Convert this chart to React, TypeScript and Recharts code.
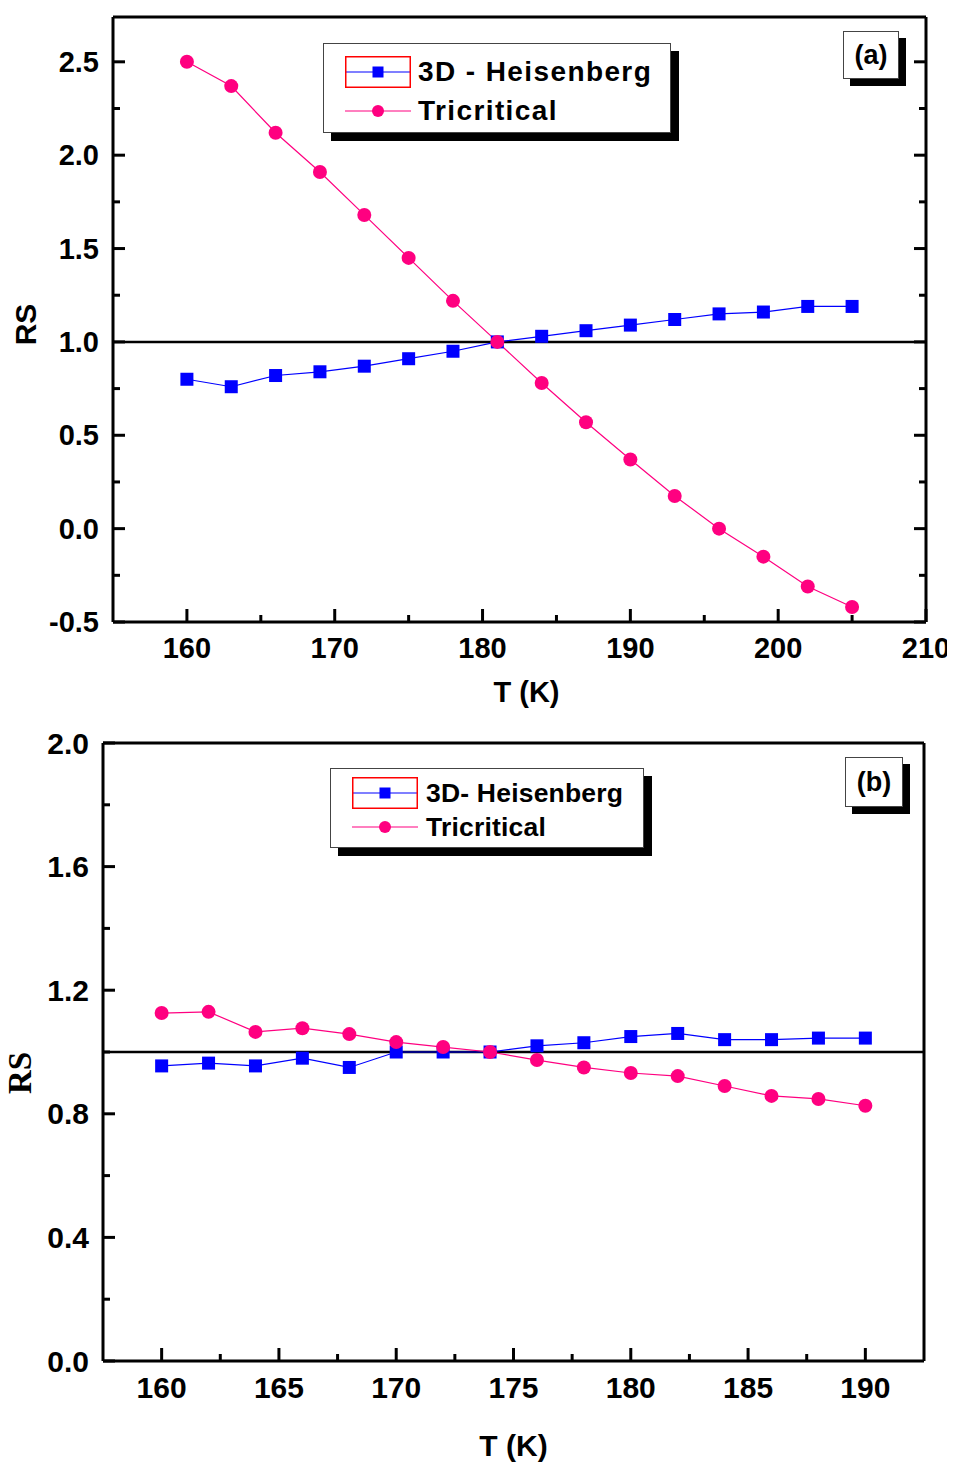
import { LineChart, Line, XAxis, YAxis, ReferenceLine, Legend, Label } from "recharts";

// panel (a)
const tempsA = [160, 163, 166, 169, 172, 175, 178, 181, 184, 187, 190, 193, 196, 199, 202, 205];
const heisenbergA = [0.8, 0.76, 0.82, 0.84, 0.87, 0.91, 0.95, 1.0, 1.03, 1.06, 1.09, 1.12, 1.15, 1.16, 1.19, 1.19];
const tricriticalA = [2.5, 2.37, 2.12, 1.91, 1.68, 1.45, 1.22, 1.0, 0.78, 0.57, 0.37, 0.175, 0.0, -0.15, -0.31, -0.42];
const xMajorA = [160, 170, 180, 190, 200, 210];
const xMinorA = [165, 175, 185, 195, 205];
const yMajorA = [-0.5, 0, 0.5, 1, 1.5, 2, 2.5];
const yMinorA = [-0.25, 0.25, 0.75, 1.25, 1.75, 2.25];

// panel (b)
const tempsB = [160, 162, 164, 166, 168, 170, 172, 174, 176, 178, 180, 182, 184, 186, 188, 190];
const heisenbergB = [0.955, 0.964, 0.955, 0.98, 0.95, 1.0, 1.0, 1.0, 1.02, 1.03, 1.05, 1.06, 1.04, 1.04, 1.045, 1.045];
const tricriticalB = [1.126, 1.13, 1.065, 1.077, 1.058, 1.032, 1.016, 1.0, 0.974, 0.95, 0.932, 0.922, 0.89, 0.858, 0.848, 0.826];
const xMajorB = [160, 165, 170, 175, 180, 185, 190];
const xMinorB = [162.5, 167.5, 172.5, 177.5, 182.5, 187.5];
const yMajorB = [0, 0.4, 0.8, 1.2, 1.6, 2.0];
const yMinorB = [0.2, 0.6, 1.0, 1.4, 1.8];

const BLUE = "#0000ff";
const PINK = "#ff0080";
const SANS = "'Liberation Sans', Arial, sans-serif";
const SERIF = "'Liberation Serif', 'Times New Roman', serif";

const sortNum = (a: number[], b: number[]) => [...a, ...b].sort((p, q) => p - q);

function Square({ cx, cy, size = 13, color = BLUE }: any) {
  if (cx == null || cy == null) return null;
  return <rect x={cx - size / 2} y={cy - size / 2} width={size} height={size} fill={color} />;
}

function Dot({ cx, cy, r = 7, color = PINK }: any) {
  if (cx == null || cy == null) return null;
  return <circle cx={cx} cy={cy} r={r} fill={color} />;
}

function xTick(majors: number[], fontSize: number, labelGap: number) {
  return (p: any) => {
    const major = majors.includes(p.payload.value);
    return (
      <g>
        <line x1={p.x} x2={p.x} y1={p.y} y2={p.y - (major ? 13 : 7)} stroke="#000" strokeWidth={3} />
        {major && (
          <text x={p.x} y={p.y + labelGap} textAnchor="middle" dominantBaseline="central"
            fontFamily={SANS} fontWeight="bold" fontSize={fontSize} fill="#000">
            {p.payload.value}
          </text>
        )}
      </g>
    );
  };
}

function yTick(majors: number[], fontSize: number, side: "left" | "right", labels: boolean) {
  return (p: any) => {
    const major = majors.includes(p.payload.value);
    const len = major ? 12 : 7;
    const dir = side === "left" ? 1 : -1;
    return (
      <g>
        <line x1={p.x} x2={p.x + dir * len} y1={p.y} y2={p.y} stroke="#000" strokeWidth={3} />
        {major && labels && (
          <text x={p.x - 14} y={p.y} textAnchor="end" dominantBaseline="central"
            fontFamily={SANS} fontWeight="bold" fontSize={fontSize} fill="#000">
            {p.payload.value.toFixed(1)}
          </text>
        )}
      </g>
    );
  };
}

function LegendBox({ w, h, rows, labels, fontSize, letterSpacing, sampleLeft, textLeft }: any) {
  return (
    <div style={{ position: "relative", width: w, height: h, boxSizing: "border-box", border: "1.5px solid #444",
      background: "#fff", boxShadow: "8px 8px 0 #000" }}>
      {labels.map((lab: string, i: number) => (
        <div key={lab} style={{ position: "absolute", left: sampleLeft, top: rows[i] - 16, height: 32, display: "flex", alignItems: "center" }}>
          <svg width={66} height={32} style={{ display: "block" }}>
            <line x1={0} x2={66} y1={16} y2={16} stroke={i === 0 ? BLUE : PINK} strokeWidth={1.2} />
            {i === 0 ? <Square cx={33} cy={16} size={11} /> : <Dot cx={33} cy={16} r={6} />}
            {i === 0 && <rect x={0.75} y={0.75} width={64.5} height={30.5} fill="none" stroke="#ff0000" strokeWidth={1.5} />}
          </svg>
          <span style={{ position: "absolute", left: textLeft - sampleLeft, whiteSpace: "nowrap", fontFamily: SANS,
            fontWeight: "bold", fontSize, letterSpacing, color: "#000", lineHeight: "32px" }}>{lab}</span>
        </div>
      ))}
    </div>
  );
}

function Panel(props: any) {
  const { top, width, height, margin, temps, heis, tric, xDomain, yDomain, xMajor, xMinor, yMajor, yMinor,
    yAxisWidth, xAxisHeight, tickFont, rightTicks, legend, tag, yTitle, xTitle } = props;
  const rows = temps.map((t: number, i: number) => ({ t, heis: heis[i], tric: tric[i] }));
  return (
    <div style={{ position: "absolute", left: 0, top, width, height }}>
      <LineChart width={width} height={height} data={rows} margin={margin}>
        <XAxis xAxisId="top" orientation="top" type="number" dataKey="t" domain={xDomain} allowDataOverflow
          height={1} ticks={xMajor} tick={false} tickLine={false} axisLine={{ stroke: "#000", strokeWidth: 3 }} />
        <XAxis type="number" dataKey="t" domain={xDomain} allowDataOverflow height={xAxisHeight}
          ticks={sortNum(xMajor, xMinor)} interval={0} tickSize={0} tickMargin={0} tickLine={false}
          tick={xTick(xMajor, tickFont, 26)} axisLine={{ stroke: "#000", strokeWidth: 3 }}>
          <Label content={(p: any) => (
            <text x={p.viewBox.x + p.viewBox.width / 2 + xTitle.dx} y={p.viewBox.y + xTitle.dy} textAnchor="middle"
              dominantBaseline="central" fontFamily={SANS} fontWeight="bold" fontSize={xTitle.size} fill="#000">T (K)</text>
          )} />
        </XAxis>
        <YAxis type="number" domain={yDomain} allowDataOverflow width={yAxisWidth}
          ticks={sortNum(yMajor, yMinor)} interval={0} tickSize={0} tickMargin={0} tickLine={false}
          tick={yTick(yMajor, tickFont, "left", true)} axisLine={{ stroke: "#000", strokeWidth: 3 }}>
          <Label content={(p: any) => {
            const x = p.viewBox.x + yTitle.x;
            const y = p.viewBox.y + p.viewBox.height / 2 + yTitle.dy;
            return (
              <text x={x} y={y} transform={`rotate(-90 ${x} ${y})`} textAnchor="middle" dominantBaseline="central"
                fontFamily={yTitle.font} fontWeight="bold" fontSize={yTitle.size} fill="#000">RS</text>
            );
          }} />
        </YAxis>
        <YAxis yAxisId="right" orientation="right" type="number" domain={yDomain} allowDataOverflow width={1}
          ticks={rightTicks ? sortNum(yMajor, yMinor) : yMajor} interval={0} tickSize={0} tickMargin={0} tickLine={false}
          tick={rightTicks ? yTick(yMajor, tickFont, "right", false) : false}
          axisLine={{ stroke: "#000", strokeWidth: 3 }} />
        <ReferenceLine y={1} stroke="#000" strokeWidth={2.5} />
        <Line type="linear" dataKey="heis" name={legend.labels[0]} stroke={BLUE} strokeWidth={1.2}
          dot={(d: any) => <Square key={`h${d.index}`} cx={d.cx} cy={d.cy} />} activeDot={false} isAnimationActive={false} />
        <Line type="linear" dataKey="tric" name={legend.labels[1]} stroke={PINK} strokeWidth={1.2}
          dot={(d: any) => <Dot key={`t${d.index}`} cx={d.cx} cy={d.cy} />} activeDot={false} isAnimationActive={false} />
        <Legend layout="horizontal" verticalAlign="middle" align="center"
          wrapperStyle={{ left: legend.left, top: legend.top, width: legend.w, height: legend.h }}
          content={() => <LegendBox {...legend} />} />
      </LineChart>
      <div style={{ position: "absolute", left: tag.left, top: tag.top, width: tag.w, height: tag.h, boxSizing: "border-box",
        border: "1.5px solid #444", background: "#fff", boxShadow: "7px 7px 0 #000", display: "flex", alignItems: "center",
        justifyContent: "center", fontFamily: SANS, fontWeight: "bold", fontSize: 27, color: "#000" }}>{tag.text}</div>
    </div>
  );
}

export default function App() {
  return (
    <div style={{ position: "relative", width: 955, height: 1465, margin: "-8px 0 0 -8px", background: "#fff" }}>
      <Panel top={0} width={955} height={715} margin={{ top: 16, right: 28, left: 0, bottom: 13 }}
        temps={tempsA} heis={heisenbergA} tric={tricriticalA} xDomain={[155, 210]} yDomain={[-0.5, 2.74]}
        xMajor={xMajorA} xMinor={xMinorA} yMajor={yMajorA} yMinor={yMinorA} yAxisWidth={113} xAxisHeight={80}
        tickFont={29} rightTicks
        legend={{ left: 323, top: 43, w: 348, h: 90, rows: [28, 67], labels: ["3D - Heisenberg", "Tricritical"],
          fontSize: 28, letterSpacing: 1.4, sampleLeft: 21, textLeft: 94 }}
        tag={{ left: 843, top: 31, w: 56, h: 48, text: "(a)" }}
        yTitle={{ x: 25, dy: 5, size: 30, font: SANS }} xTitle={{ dx: 7, dy: 70, size: 29 }} />
      <Panel top={720} width={955} height={745} margin={{ top: 22, right: 30, left: 0, bottom: 14 }}
        temps={tempsB} heis={heisenbergB} tric={tricriticalB} xDomain={[157.5, 192.5]} yDomain={[0, 2]}
        xMajor={xMajorB} xMinor={xMinorB} yMajor={yMajorB} yMinor={yMinorB} yAxisWidth={103} xAxisHeight={90}
        tickFont={30} rightTicks={false}
        legend={{ left: 330, top: 48, w: 314, h: 80, rows: [24, 58], labels: ["3D- Heisenberg", "Tricritical"],
          fontSize: 26.5, letterSpacing: 0.2, sampleLeft: 21, textLeft: 95 }}
        tag={{ left: 845, top: 37, w: 58, h: 50, text: "(b)" }}
        yTitle={{ x: 20, dy: 21, size: 33, font: SERIF }} xTitle={{ dx: 0, dy: 84, size: 30 }} />
    </div>
  );
}
